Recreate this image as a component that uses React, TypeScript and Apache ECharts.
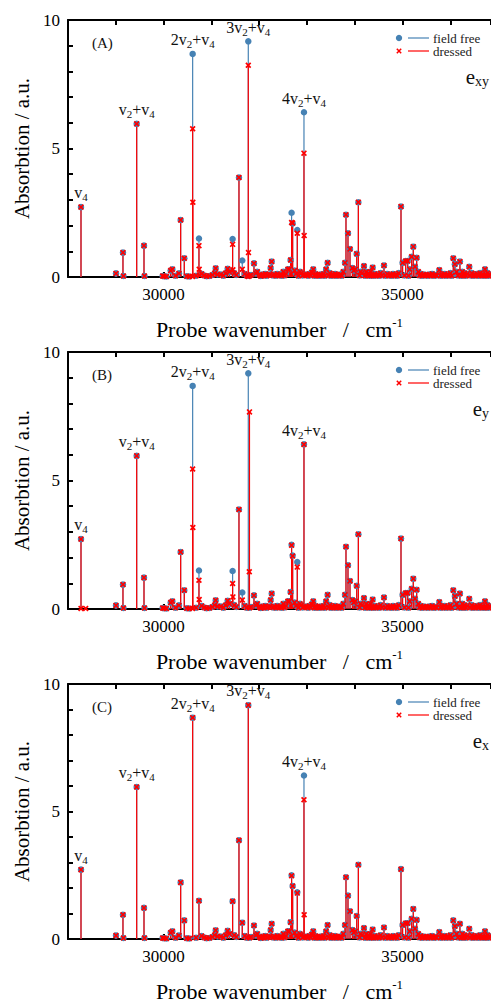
import React, { useEffect, useRef } from 'react';
import * as echarts from 'echarts';

const FONT = '"Liberation Serif", "Times New Roman", serif';
const BLUE = '#4682b4';
const RED = '#ff0000';

const xTickLabels = [30000, 35000];
const yTickLabels = [0, 5, 10];
const panelNames = ['(A)', '(B)', '(C)'];
const polarisationSub = ['xy', 'y', 'x'];
const legendNames = ['field free', 'dressed'];
const xAxisTitle = 'Probe wavenumber   /   cm';
const yAxisTitle = 'Absorbtion / a.u.';

const peakLabelX = [28272, 29437, 30608, 31772, 32937];
const peakLabelText = [
  '{m|v}{s|4}',
  '{m|v}{s|2}{m|+v}{s|4}',
  '{m|2v}{s|2}{m|+v}{s|4}',
  '{m|3v}{s|2}{m|+v}{s|4}',
  '{m|4v}{s|2}{m|+v}{s|4}',
];

// lines identical in field-free and dressed spectra (all panels)
const sharedLines: [number, number][] = [
  [28272, 2.72], [29004, 0.14], [29150, 0.95], [29160, 0.04], [29437, 5.96], [29590, 1.22], [29600, 0.04],
  [29980, 0.04], [30008, 0.03], [30060, 0.02], [30148, 0.25], [30184, 0.3], [30250, 0.05], [30322, 0.14],
  [30357, 2.22], [30433, 0.73], [30483, 0.03], [30540, 0.02], [30680, 0.05], [30797, 0.12], [30850, 0.06],
  [30900, 0.03], [30960, 0.04], [31020, 0.08], [31070, 0.15], [31090, 0.34], [31130, 0.1], [31195, 0.1],
  [31250, 0.05], [31300, 0.15], [31340, 0.32], [31380, 0.2], [31478, 0.15], [31520, 0.08], [31577, 3.87],
  [31700, 0.12], [31740, 0.05], [31830, 0.08], [31891, 0.53], [31930, 0.15], [31960, 0.2], [32010, 0.08],
  [32050, 0.05], [32080, 0.1], [32130, 0.12], [32180, 0.08], [32220, 0.1], [32240, 0.35], [32262, 0.6],
  [32320, 0.1], [32380, 0.12], [32440, 0.08], [32504, 0.2], [32560, 0.12], [32600, 0.3], [32630, 0.3],
  [32657, 0.66], [32740, 0.25], [32770, 0.12], [32854, 0.2], [32880, 0.15], [32960, 0.08], [33000, 0.1],
  [33050, 0.12], [33100, 0.18], [33131, 0.3], [33180, 0.12], [33230, 0.08], [33290, 0.1], [33350, 0.12],
  [33400, 0.3], [33432, 0.55], [33480, 0.15], [33530, 0.1], [33590, 0.12], [33640, 0.08], [33700, 0.1],
  [33760, 0.2], [33795, 0.55], [33816, 2.42], [33858, 1.7], [33900, 1.09], [33950, 0.35], [33980, 0.25],
  [34010, 0.3], [34040, 0.9], [34075, 2.91], [34120, 0.2], [34150, 0.15], [34192, 0.43], [34240, 0.2],
  [34290, 0.15], [34330, 0.2], [34374, 0.37], [34420, 0.12], [34480, 0.1], [34540, 0.15], [34611, 0.45],
  [34680, 0.12], [34740, 0.08], [34800, 0.12], [34860, 0.1], [34920, 0.15], [34967, 2.74], [35000, 0.55],
  [35065, 0.62], [35107, 0.62], [35150, 0.3], [35190, 0.79], [35224, 1.18], [35260, 0.4], [35295, 0.75],
  [35330, 0.2], [35380, 0.12], [35440, 0.1], [35500, 0.08], [35560, 0.1], [35620, 0.12], [35680, 0.08],
  [35768, 0.27], [35820, 0.1], [35880, 0.12], [35940, 0.1], [36000, 0.15], [36061, 0.73], [36095, 0.5],
  [36130, 0.2], [36200, 0.6], [36250, 0.2], [36300, 0.15], [36350, 0.12], [36395, 0.4], [36450, 0.15],
  [36500, 0.1], [36560, 0.12], [36620, 0.15], [36680, 0.12], [36724, 0.3], [36780, 0.15], [36820, 0.1],
];

// weak baseline lines (shared)
const baselineLines: [number, number][] = [
  [31800, 0.05], [32030, 0.04], [32100, 0.06], [32160, 0.05], [32290, 0.06], [32350, 0.05], [32410, 0.07],
  [32470, 0.05], [32530, 0.06], [32820, 0.05], [32910, 0.06], [33020, 0.05], [33075, 0.07], [33155, 0.05],
  [33205, 0.06], [33260, 0.05], [33320, 0.06], [33375, 0.05], [33455, 0.07], [33505, 0.05], [33560, 0.06],
  [33615, 0.05], [33670, 0.06], [33730, 0.05], [34100, 0.06], [34215, 0.05], [34265, 0.07], [34310, 0.05],
  [34355, 0.06], [34400, 0.05], [34450, 0.06], [34510, 0.05], [34570, 0.07], [34640, 0.05], [34710, 0.06],
  [34770, 0.05], [34830, 0.06], [34890, 0.05], [35040, 0.06], [35125, 0.05], [35355, 0.06], [35410, 0.05],
  [35470, 0.06], [35530, 0.05], [35590, 0.06], [35650, 0.05], [35710, 0.06], [35795, 0.05], [35850, 0.06],
  [35910, 0.05], [35970, 0.06], [36030, 0.05], [36160, 0.06], [36225, 0.05], [36275, 0.06], [36325, 0.05],
  [36420, 0.06], [36475, 0.05], [36530, 0.06], [36590, 0.05], [36650, 0.06], [36700, 0.05], [36750, 0.06],
  [36800, 0.05],
];

// field-free lines that are modified by the dressing field
const fieldFreeLines: [number, number][] = [
  [30608, 8.68], [30740, 1.5], [31444, 1.48], [31646, 0.64], [31772, 9.17],
  [32678, 2.5], [32700, 2.08], [32797, 1.83], [32937, 6.41],
];

const dressedLinesA: [number, number][] = [
  [30604, 0.02], [30608, 5.77], [30612, 2.91], [30740, 1.22], [30745, 0.3], [30750, 0.08],
  [31444, 1.27], [31450, 0.28], [31646, 0.3], [31768, 0.02], [31772, 8.24], [31776, 0.95],
  [32678, 2.12], [32700, 2.1], [32797, 1.7], [32937, 4.82], [32941, 1.61],
];

const dressedLinesB: [number, number][] = [
  [28272, 0.02], [28370, 0.02],
  [30604, 0.02], [30608, 5.45], [30612, 3.17], [30740, 1.12], [30745, 0.37],
  [31444, 0.99], [31450, 0.47], [31646, 0.35], [31797, 7.67], [31793, 1.45],
  [32678, 2.48], [32700, 2.06], [32797, 1.63], [32937, 6.4],
];

const dressedLinesC: [number, number][] = [
  [30608, 8.68], [30740, 1.5], [31444, 1.48], [31646, 0.64], [31772, 9.17],
  [32678, 2.48], [32700, 2.08], [32797, 1.8], [32937, 5.46], [32941, 0.95],
];

const dressedPanels = [dressedLinesA, dressedLinesB, dressedLinesC];

const X_MIN = 28000;
const X_MAX = 36850;
const GRID_TOPS = [20, 352, 684];
const GRID_H = 257;
const GRID_LEFT = 68;
const GRID_W = 423;

const CROSS = 'path://M0,2L2,0L5,3L8,0L10,2L7,5L10,8L8,10L5,7L2,10L0,8L3,5Z';

function stickSeries(data: [number, number][], color: string, idx: number, z: number) {
  return {
    type: 'custom',
    coordinateSystem: 'cartesian2d',
    xAxisIndex: idx * 2,
    yAxisIndex: idx,
    z,
    silent: true,
    data,
    encode: { x: 0, y: 1 },
    renderItem: (params: any, api: any) => {
      const x = api.value(0);
      const y = api.value(1);
      const p0 = api.coord([x, 0]);
      const p1 = api.coord([x, y]);
      return {
        type: 'line',
        shape: { x1: p0[0], y1: p0[1], x2: p1[0], y2: p1[1] },
        style: { stroke: color, lineWidth: 1.2 },
      };
    },
  };
}

function buildOption() {
  const grids: any[] = [];
  const xAxes: any[] = [];
  const yAxes: any[] = [];
  const series: any[] = [];
  const graphics: any[] = [];

  const axisLine = { show: true, onZero: false, lineStyle: { color: '#000', width: 2 } };
  const axisTick = { show: true, inside: true, length: 5, lineStyle: { color: '#000', width: 2 } };

  const fieldFreeAll = [...sharedLines, ...baselineLines, ...fieldFreeLines];

  GRID_TOPS.forEach((top, i) => {
    grids.push({ left: GRID_LEFT, top, width: GRID_W, height: GRID_H, containLabel: false });
    xAxes.push({
      type: 'value', gridIndex: i, position: 'bottom', min: X_MIN, max: X_MAX, interval: 1000,
      axisLine, axisTick, splitLine: { show: false },
      axisLabel: {
        show: true, margin: 9, color: '#000', fontFamily: FONT, fontSize: 17,
        showMaxLabel: false,
        formatter: (v: number) => (xTickLabels.includes(v) ? String(v) : ''),
      },
      name: '{t|' + xAxisTitle + '}{sup|-1}',
      nameLocation: 'middle',
      nameGap: 39,
      nameTextStyle: {
        rich: {
          t: { fontFamily: FONT, fontSize: 22, color: '#000', lineHeight: 26 },
          sup: { fontFamily: FONT, fontSize: 13, color: '#000', lineHeight: 12, verticalAlign: 'top' },
        },
      },
    });
    xAxes.push({
      type: 'value', gridIndex: i, position: 'top', min: X_MIN, max: X_MAX, interval: 1000,
      axisLine, axisTick, splitLine: { show: false }, axisLabel: { show: false },
    });
    yAxes.push({
      type: 'value', gridIndex: i, min: 0, max: 10, interval: 1,
      axisLine, axisTick, splitLine: { show: false },
      axisLabel: {
        show: true, margin: 8, color: '#000', fontFamily: FONT, fontSize: 17,
        formatter: (v: number) => (yTickLabels.includes(v) ? String(v) : ''),
      },
      name: yAxisTitle,
      nameLocation: 'middle',
      nameRotate: 90,
      nameGap: 33,
      nameTextStyle: { fontFamily: FONT, fontSize: 21, color: '#000' },
    });

    const dressed = [...sharedLines, ...baselineLines, ...dressedPanels[i]];

    series.push(stickSeries(fieldFreeAll, BLUE, i, 1));
    series.push(stickSeries(dressed, RED, i, 2));

    series.push({
      type: 'scatter',
      xAxisIndex: i * 2,
      yAxisIndex: i,
      z: 3,
      silent: true,
      symbol: 'circle',
      symbolSize: 6.5,
      itemStyle: { color: BLUE, opacity: 1 },
      data: fieldFreeAll.map((d) => {
        const k = peakLabelX.indexOf(d[0]);
        if (k >= 0 && d[1] > 1) {
          return {
            value: d,
            label: {
              show: true,
              position: 'top',
              distance: 1,
              formatter: peakLabelText[k],
              rich: {
                m: { fontFamily: FONT, fontSize: 16, color: '#111', lineHeight: 20 },
                s: { fontFamily: FONT, fontSize: 11, color: '#111', lineHeight: 10, verticalAlign: 'bottom' },
              },
            },
          };
        }
        return d;
      }),
    });
    series.push({
      type: 'scatter',
      xAxisIndex: i * 2,
      yAxisIndex: i,
      z: 4,
      silent: true,
      symbol: CROSS,
      symbolSize: 6,
      itemStyle: { color: RED, opacity: 1 },
      data: dressed,
    });

    graphics.push({
      type: 'text', left: 92, top: top + 15,
      style: { text: panelNames[i], fontFamily: FONT, fontSize: 15, fill: '#111' },
    });
    graphics.push({
      type: 'text', right: 2, top: top + 46,
      style: {
        text: '{e|e}{s|' + polarisationSub[i] + '}',
        rich: {
          e: { fontFamily: FONT, fontSize: 21, fill: '#111', lineHeight: 24 },
          s: { fontFamily: FONT, fontSize: 14, fill: '#111', lineHeight: 12, verticalAlign: 'bottom' },
        },
      },
    });
    const r1 = top + 18;
    const r2 = top + 31;
    graphics.push({ type: 'circle', shape: { cx: 399, cy: r1, r: 3.2 }, style: { fill: BLUE } });
    graphics.push({ type: 'line', shape: { x1: 408, y1: r1, x2: 429, y2: r1 }, style: { stroke: BLUE, lineWidth: 1.2 } });
    graphics.push({
      type: 'text', x: 433, y: r1,
      style: { text: legendNames[0], fontFamily: FONT, fontSize: 13, fill: '#222', verticalAlign: 'middle' },
    });
    graphics.push({ type: 'line', shape: { x1: 396.8, y1: r2 - 2.2, x2: 401.2, y2: r2 + 2.2 }, style: { stroke: RED, lineWidth: 1.5 } });
    graphics.push({ type: 'line', shape: { x1: 396.8, y1: r2 + 2.2, x2: 401.2, y2: r2 - 2.2 }, style: { stroke: RED, lineWidth: 1.5 } });
    graphics.push({ type: 'line', shape: { x1: 408, y1: r2, x2: 429, y2: r2 }, style: { stroke: RED, lineWidth: 1.2 } });
    graphics.push({
      type: 'text', x: 433, y: r2,
      style: { text: legendNames[1], fontFamily: FONT, fontSize: 13, fill: '#222', verticalAlign: 'middle' },
    });
  });

  return {
    animation: false,
    backgroundColor: '#fff',
    grid: grids,
    xAxis: xAxes,
    yAxis: yAxes,
    series,
    graphic: graphics,
  };
}

export default function App() {
  const ref = useRef<HTMLDivElement>(null);
  useEffect(() => {
    if (!ref.current) return;
    const chart = echarts.init(ref.current, undefined, { renderer: 'svg' });
    chart.setOption(buildOption() as any);
    return () => chart.dispose();
  }, []);
  return (
    <div
      ref={ref}
      style={{ position: 'absolute', left: 0, top: 0, width: 491, height: 1003, background: '#fff' }}
    />
  );
}
